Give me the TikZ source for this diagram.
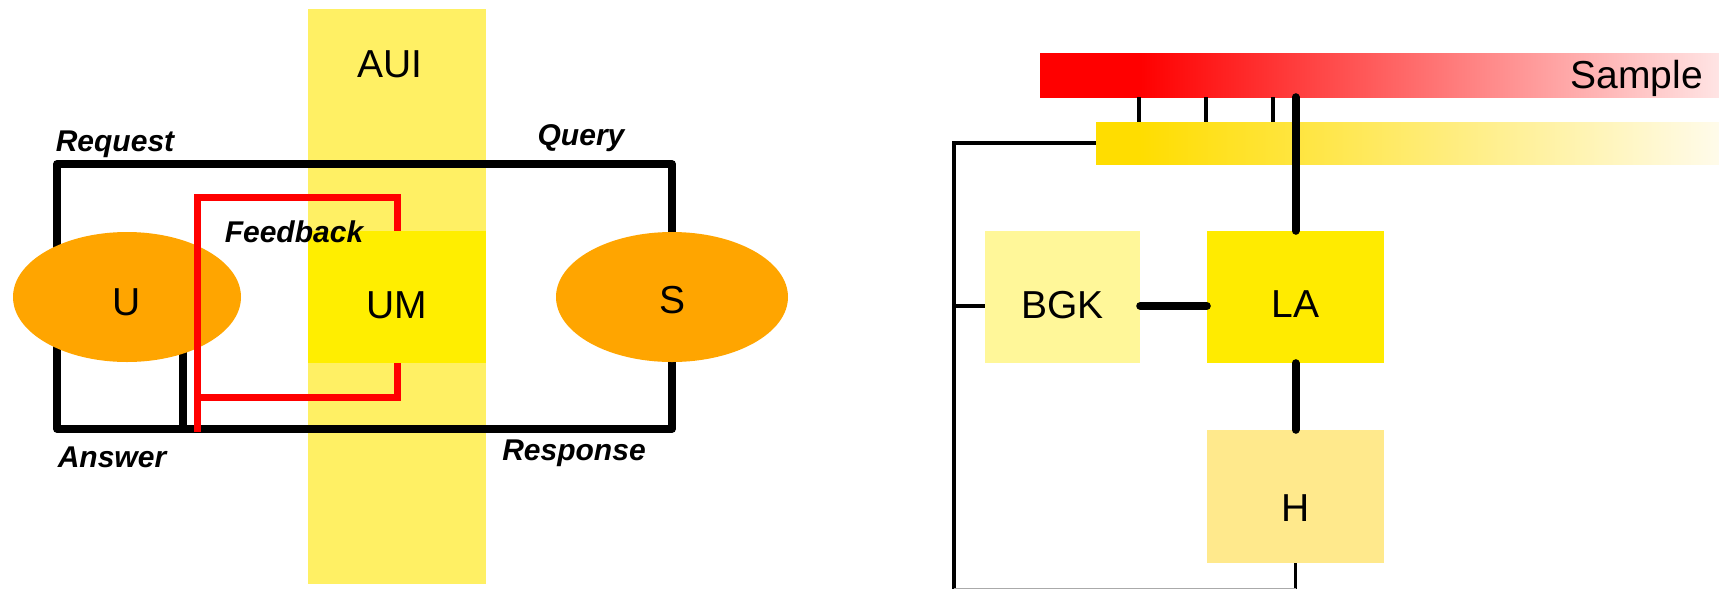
\documentclass[tikz,border=0pt]{standalone}
\usepackage{fontspec}
\setmainfont{Liberation Sans}
\usetikzlibrary{shapes.geometric}
\definecolor{auiband}{RGB}{255,240,100}
\definecolor{umfill}{RGB}{255,238,0}
\definecolor{orangefill}{RGB}{255,165,0}
\definecolor{bgkfill}{RGB}{255,247,153}
\definecolor{lafill}{RGB}{255,235,0}
\definecolor{hfill}{RGB}{255,233,140}
\definecolor{pinkend}{RGB}{255,228,228}
\definecolor{goldstart}{RGB}{255,221,0}
\definecolor{goldend}{RGB}{255,251,234}
\definecolor{pured}{RGB}{255,0,0}
\definecolor{faintgray}{RGB}{170,170,170}
\pgfdeclarehorizontalshading{redfade}{100bp}{color(0bp)=(pured); color(32.4bp)=(pured); color(75bp)=(pinkend); color(100bp)=(pinkend)}
\pgfdeclarehorizontalshading{goldfade}{100bp}{color(0bp)=(goldstart); color(28.5bp)=(goldstart); color(75bp)=(goldend); color(100bp)=(goldend)}
\pgfdeclarelayer{bandlayer}
\pgfdeclarelayer{linelayer}
\pgfsetlayers{bandlayer,linelayer,main}
\begin{document}
\begin{tikzpicture}[x=1pt,y=-1pt,
  big/.style={font=\fontsize{39}{39}\selectfont, inner sep=0pt},
  ital/.style={font=\fontsize{30}{30}\selectfont\bfseries\itshape, inner sep=0pt, anchor=base},
  tshift/.style={text height=#1, text depth=0pt},
  blk/.style={line width=7.5pt, line cap=round, line join=round},
  redl/.style={draw=pured, line width=7pt, line cap=butt, line join=miter},
  thinl/.style={line width=3.5pt, line join=miter},
  tickl/.style={line width=4pt},
  thickl/.style={line width=8pt, line cap=round},
  box/.style={big, draw=none, inner sep=0pt}]
\useasboundingbox (0,0) rectangle (1719,590);

% ---------- left diagram ----------
\begin{pgfonlayer}{bandlayer}
  \node[fill=auiband, minimum width=178pt, minimum height=575pt, inner sep=0pt] (band) at (397,296.5) {};
\end{pgfonlayer}
\node[box, fill=umfill, minimum width=178pt, minimum height=132pt, tshift=42pt] (UM) at (397,297) {UM};
\node[box, ellipse, fill=orangefill, minimum width=228pt, minimum height=130pt, tshift=36pt] (U) at (127,297) {U};
\node[box, ellipse, fill=orangefill, minimum width=232pt, minimum height=130pt, tshift=32pt] (S) at (672,297) {S};
\node[big, anchor=base] (auitext) at (390,77) {AUI};

\coordinate (tl) at (57,164);
\coordinate (br) at (672,429);
\coordinate (ax) at (183,429);
\begin{pgfonlayer}{linelayer}
  \draw[blk] (U.center -| tl) -- (tl) -- (tl -| S.center) -- (S.center);
  \draw[blk] (U.center -| tl) -- (tl |- br) -- (br) -- (S.center);
  \draw[blk] (ax) -- (ax |- U.center);
\end{pgfonlayer}

\coordinate (rtl) at (197,197);
\coordinate (rbot) at (197,432);
\coordinate (rmid) at (197,397);
\draw[redl] (UM.north) -- (UM.north |- rtl) -- (rtl) -- (rbot);
\draw[redl] (UM.south) -- (UM.south |- rmid) -- (rmid);

\node[ital] (request) at (115,151) {Request};
\node[ital] (query) at (581,145) {Query};
\node[ital] (feedback) at (294,242) {Feedback};
\node[ital] (answer) at (112,467) {Answer};
\node[ital] (response) at (574,460) {Response};

% ---------- right diagram ----------
\node[draw=none, shading=redfade, minimum width=679pt, minimum height=44pt, inner sep=0pt] (sample) at (1379.5,75) {};
\node[big, anchor=base east] (sampletext) at (1703,88) {Sample};
\node[draw=none, shading=goldfade, minimum width=623pt, minimum height=42pt, inner sep=0pt] (ybar) at (1407.5,143) {};

\node[box, fill=bgkfill, minimum width=155pt, minimum height=132pt, tshift=43pt] (BGK) at (1062.5,297) {BGK};
\node[box, fill=lafill, minimum width=177pt, minimum height=132pt, tshift=41pt] (LA) at (1295.5,297) {LA};
\node[box, fill=hfill, minimum width=177pt, minimum height=133pt, tshift=49pt] (H) at (1295.5,496.5) {H};

\coordinate (t1) at (1139,0);
\coordinate (t2) at (1206,0);
\coordinate (t3) at (1273,0);
\draw[tickl] (sample.south -| t1) -- (ybar.north -| t1);
\draw[tickl] (sample.south -| t2) -- (ybar.north -| t2);
\draw[tickl] (sample.south -| t3) -- (ybar.north -| t3);
\draw[thickl] (sample.south -| LA.north) -- (LA.north);

\coordinate (conn) at (0,306);
\coordinate (lb) at (954,588.5);
\draw[thinl] (ybar.west) -| (lb);
\draw[thinl] (H.south) -- (H.south |- lb);
\draw[line width=1.5pt, draw=faintgray] (lb) -- (lb -| H.south);
\draw[thinl] (BGK.west |- conn) -- (conn -| lb);
\draw[thickl] (BGK.east |- conn) -- (LA.west |- conn);
\draw[thickl] (LA.south) -- (H.north);
\end{tikzpicture}
\end{document}
